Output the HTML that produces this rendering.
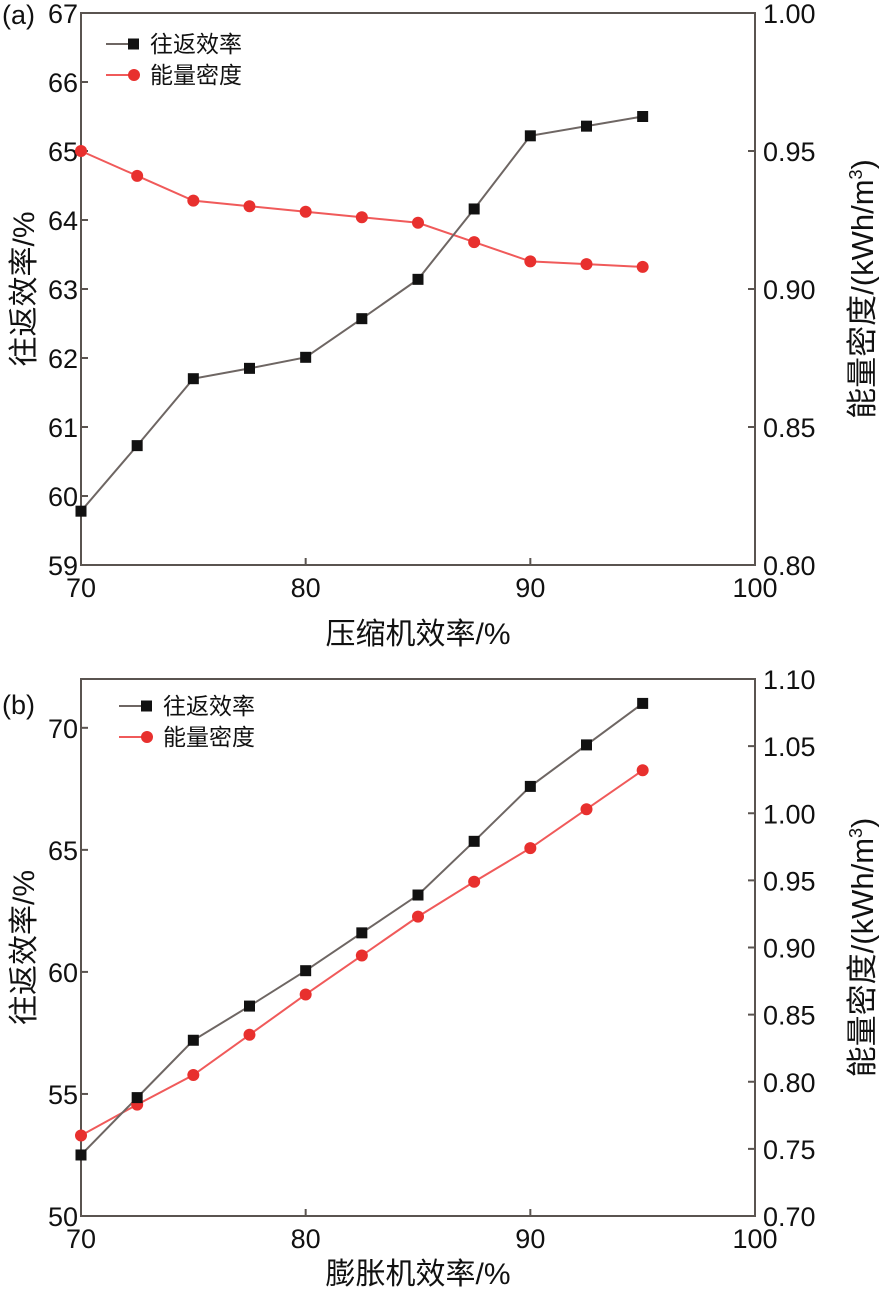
<!DOCTYPE html>
<html><head><meta charset="utf-8"><style>
html,body{margin:0;padding:0;background:#fff;}
svg{display:block;font-family:"Liberation Sans","Noto Sans CJK SC",sans-serif;}
</style></head><body>
<svg id="c" width="879" height="1295" viewBox="0 0 879 1295"></svg>
<script>
const xTicks=[70,80,90,100];
const xCats=[70,72.5,75,77.5,80,82.5,85,87.5,90,92.5,95];
const aEff=[59.78,60.73,61.7,61.85,62.01,62.57,63.14,64.16,65.22,65.36,65.5];
const aDen=[0.950,0.941,0.932,0.930,0.928,0.926,0.924,0.917,0.910,0.909,0.908];
const aLeftTicks=[59,60,61,62,63,64,65,66,67];
const aRightTicks=["0.80","0.85","0.90","0.95","1.00"];
const bEff=[52.5,54.85,57.2,58.6,60.05,61.6,63.15,65.35,67.6,69.3,71.0];
const bDen=[0.760,0.783,0.805,0.835,0.865,0.894,0.923,0.949,0.974,1.003,1.032];
const bLeftTicks=[50,55,60,65,70];
const bRightTicks=["0.70","0.75","0.80","0.85","0.90","0.95","1.00","1.05","1.10"];
const NS="http://www.w3.org/2000/svg";
const svg=document.getElementById('c');
function mk(t,a,p){const e=document.createElementNS(NS,t);for(const k in a)e.setAttribute(k,a[k]);(p||svg).appendChild(e);return e;}
function panel(cfg){
  const L=81,R=755,T=cfg.top,B=cfg.bottom;
  const g=mk('g',{});
  
  
  const xs=v=>L+(v-70)/30*(R-L);
  const yl=v=>B-(v-cfg.lmin)/(cfg.lmax-cfg.lmin)*(B-T);
  const yr=v=>B-(v-cfg.rmin)/(cfg.rmax-cfg.rmin)*(B-T);
  const fr=mk('rect',{x:L,y:T,width:R-L,height:B-T,fill:'none',stroke:'#5a5450','stroke-width':2},g);
  
  xTicks.forEach(v=>{const x=xs(v);
    mk('line',{x1:x,y1:B,x2:x,y2:B-7,stroke:'#5a5450','stroke-width':2},g);
    const t=mk('text',{x:x,y:B+32,'font-size':27,'text-anchor':'middle',fill:'#111'},g);t.textContent=v;
    });
  cfg.lt.forEach(v=>{const y=yl(v);
    mk('line',{x1:L,y1:y,x2:L+7,y2:y,stroke:'#5a5450','stroke-width':2},g);
    const t=mk('text',{x:L-3,y:y+10,'font-size':27,'text-anchor':'end',fill:'#111'},g);t.textContent=v;
    });
  cfg.rt.forEach(s=>{const y=yr(parseFloat(s));
    mk('line',{x1:R,y1:y,x2:R-7,y2:y,stroke:'#5a5450','stroke-width':2},g);
    const t=mk('text',{x:R+8,y:y+10,'font-size':27,'text-anchor':'start',fill:'#111'},g);t.textContent=s;
    });
  const xt=mk('text',{x:418,y:B+cfg.xto,'font-size':30,'text-anchor':'middle',fill:'#111'},g);xt.textContent=cfg.xlabel;
  
  const cy=(T+B)/2;
  const yt=mk('text',{x:0,y:0,'font-size':30,'text-anchor':'middle',fill:'#111',transform:`translate(34,${cy}) rotate(-90)`},g);yt.textContent='往返效率/%';
  
  const rt=mk('text',{x:0,y:0,'font-size':31,'text-anchor':'middle',fill:'#111',transform:`translate(873,${cy}) rotate(-90)`},g);
  rt.innerHTML='能量密度/(kWh/m<tspan dy="-11" font-size="18">3</tspan><tspan dy="11">)</tspan>';
  
  const pl=mk('text',{x:cfg.plx,y:cfg.ply,'font-size':27,fill:'#111'},g);pl.textContent=cfg.panel;
  
  const ptsD=xCats.map((c,i)=>xs(c)+','+yr(cfg.den[i])).join(' ');
  const lnD=mk('polyline',{points:ptsD,fill:'none',stroke:'#f05a5a','stroke-width':2},g);
  
  const ptsE=xCats.map((c,i)=>xs(c)+','+yl(cfg.eff[i])).join(' ');
  const lnE=mk('polyline',{points:ptsE,fill:'none',stroke:'#6e6663','stroke-width':2},g);
  
  xCats.forEach((c,i)=>{
    const m=mk('circle',{cx:xs(c),cy:yr(cfg.den[i]),r:6,fill:'#e8302e'},g);
    
  });
  xCats.forEach((c,i)=>{
    const m=mk('rect',{x:xs(c)-5.5,y:yl(cfg.eff[i])-5.5,width:11,height:11,fill:'#111'},g);
    
  });
  const lg=mk('g',{},g);
  const lx=cfg.lx,ly=cfg.ly;
  mk('line',{x1:lx,y1:ly,x2:lx+28,y2:ly,stroke:'#6e6663','stroke-width':2},lg);
  mk('rect',{x:lx+22,y:ly-5.5,width:11,height:11,fill:'#111'},lg);
  const t1=mk('text',{x:lx+44,y:ly+8,'font-size':23,fill:'#111'},lg);t1.textContent='往返效率';
  
  mk('line',{x1:lx,y1:ly+31,x2:lx+28,y2:ly+31,stroke:'#f05a5a','stroke-width':2},lg);
  mk('circle',{cx:lx+28,cy:ly+31,r:6,fill:'#e8302e'},lg);
  const t2=mk('text',{x:lx+44,y:ly+39,'font-size':23,fill:'#111'},lg);t2.textContent='能量密度';
  
}
panel({name:'panel-a',top:13,bottom:565,lmin:59,lmax:67,rmin:0.80,rmax:1.00,lt:aLeftTicks,rt:aRightTicks,eff:aEff,den:aDen,xlabel:'压缩机效率/%',panel:'(a)',plx:2,ply:24,lx:106,ly:44,xto:79});
panel({name:'panel-b',top:679,bottom:1216,lmin:50,lmax:72,rmin:0.70,rmax:1.10,lt:bLeftTicks,rt:bRightTicks,eff:bEff,den:bDen,xlabel:'膨胀机效率/%',panel:'(b)',plx:2,ply:714,lx:119,ly:706,xto:68});
</script>
</body></html>
